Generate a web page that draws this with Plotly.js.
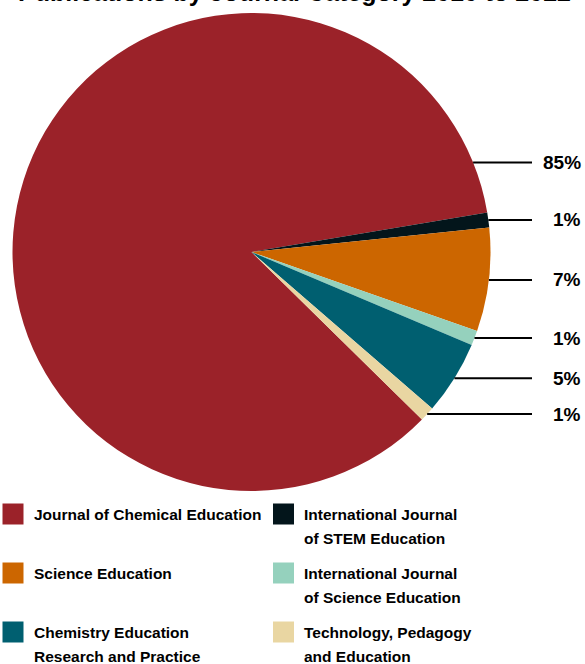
<!DOCTYPE html>
<html>
<head>
<meta charset="utf-8">
<script src="https://cdn.plot.ly/plotly-3.0.1.min.js"></script>
<style>html,body{margin:0;padding:0;background:#fff;}#chart{width:585px;height:664px;}</style>
</head>
<body>
<div id="chart"></div>
<script>
// ---- data ----
const titleText = "Publications by Journal Category 2010 to 2022";
const categories = [
  "Journal of Chemical Education",
  "International Journal of STEM Education",
  "Science Education",
  "International Journal of Science Education",
  "Chemistry Education Research and Practice",
  "Technology, Pedagogy and Education"
];
const legendLines = [
  ["Journal of Chemical Education"],
  ["International Journal", "of STEM Education"],
  ["Science Education"],
  ["International Journal", "of Science Education"],
  ["Chemistry Education", "Research and Practice"],
  ["Technology, Pedagogy", "and Education"]
];
const values = [85, 1, 7, 1, 5, 1];
const colors = ["#9B2229", "#03151B", "#CC6600", "#95D1BD", "#005F70", "#E9D6A2"];

// ---- layout constants ----
const W = 585, H = 664;
const CX = 251.5, CY = 252, R = 239;
const ROT = 134.5;            // start of first slice, degrees clockwise from 12 o'clock
const LINE_END = 532;         // px, end of leader lines
const LABEL_X = 583;          // px, right edge of percentage labels
const FONT = "'Liberation Sans', Arial, sans-serif";

const px = x => x / W;
const py = y => 1 - y / H;

const total = values.reduce((a, b) => a + b, 0);
const shapes = [];
const annotations = [];

// leader lines + percentage labels computed from pie geometry
let cum = 0;
values.forEach((v, i) => {
  const start = ROT + 360 * cum / total;
  const end = start + 360 * v / total;
  cum += v;
  let ang = (start + end) / 2;
  if (Math.sin(ang * Math.PI / 180) < 0) ang = end - 12.5; // big slice: anchor on right side
  const a = ang * Math.PI / 180;
  const x0 = CX + R * Math.sin(a);
  const y0 = CY - R * Math.cos(a);
  shapes.push({type: "line", xref: "paper", yref: "paper",
    x0: px(x0), x1: px(LINE_END), y0: py(y0), y1: py(y0),
    line: {color: "#000", width: 2}});
  annotations.push({xref: "paper", yref: "paper", x: px(LABEL_X), y: py(y0),
    xanchor: "right", yanchor: "middle", showarrow: false,
    text: "<b>" + Math.round(100 * v / total) + "%</b>",
    font: {family: FONT, size: 19, color: "#000"}});
});

// custom two-column legend
const LEG_COL_X = [2.5, 273];
const LEG_ROW_Y = [514, 573, 632];
const SW = 21, TXT_DX = 29, LINE_GAP = 24;
categories.forEach((c, i) => {
  const col = i % 2, row = Math.floor(i / 2);
  const x = LEG_COL_X[col], yc = LEG_ROW_Y[row];
  shapes.push({type: "rect", xref: "paper", yref: "paper",
    x0: px(x), x1: px(x + SW), y0: py(yc - SW / 2), y1: py(yc + SW / 2),
    fillcolor: colors[i], line: {width: 0}});
  legendLines[i].forEach((t, k) => {
    annotations.push({xref: "paper", yref: "paper", x: px(x + TXT_DX), y: py(yc + k * LINE_GAP),
      xanchor: "left", yanchor: "middle", showarrow: false,
      text: "<b>" + t + "</b>", font: {family: FONT, size: 15.5, color: "#000"}});
  });
});

// title (mostly cropped at top edge, as in the reference)
annotations.push({xref: "paper", yref: "paper", x: px(294), y: 1, xanchor: "center", yanchor: "bottom",
  yshift: -8, showarrow: false, text: "<b>" + titleText + "</b>",
  font: {family: FONT, size: 25, color: "#000"}});

const trace = {
  type: "pie",
  labels: categories,
  values: values,
  sort: false,
  direction: "clockwise",
  rotation: ROT,
  textinfo: "none",
  hoverinfo: "label+percent",
  marker: {colors: colors, line: {width: 0}},
  domain: {x: [px(CX - R), px(CX + R)], y: [py(CY + R), py(CY - R)]},
  showlegend: false
};

Plotly.newPlot("chart", [trace], {
  width: W, height: H,
  margin: {l: 0, r: 0, t: 0, b: 0},
  paper_bgcolor: "#fff",
  showlegend: false,
  shapes: shapes,
  annotations: annotations
}, {displayModeBar: false, staticPlot: true});
</script>
</body>
</html>
